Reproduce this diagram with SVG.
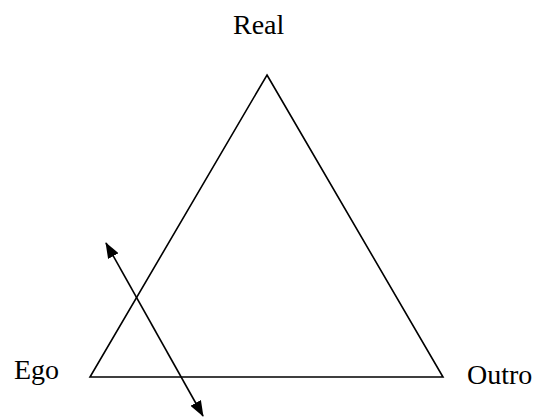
<svg xmlns="http://www.w3.org/2000/svg" width="541" height="418" viewBox="0 0 541 418">
<style>
text{font-family:"Liberation Serif","Times New Roman",serif;font-size:28px;fill:#000}
.ln{stroke:#000;stroke-width:1.6;fill:none}
</style>
<defs>
<marker id="ah" viewBox="0 0 16 12" refX="15" refY="6" markerWidth="16" markerHeight="12" markerUnits="userSpaceOnUse" orient="auto-start-reverse">
<path d="M0,0 L16,6 L0,12 z" fill="#000"/>
</marker>
</defs>
<rect width="541" height="418" fill="#fff"/>
<g id="triangle"><path class="ln" d="M267,75 L443,377 L90,377 Z" stroke-linejoin="miter"/></g>
<g id="real"><text x="233" y="34">Real</text></g>
<g id="ego"><text x="14" y="379">Ego</text></g>
<g id="outro"><text x="467" y="384">Outro</text></g>
<g id="connectors"><line class="ln" x1="106" y1="243" x2="203" y2="416" marker-start="url(#ah)" marker-end="url(#ah)"/></g>
</svg>
